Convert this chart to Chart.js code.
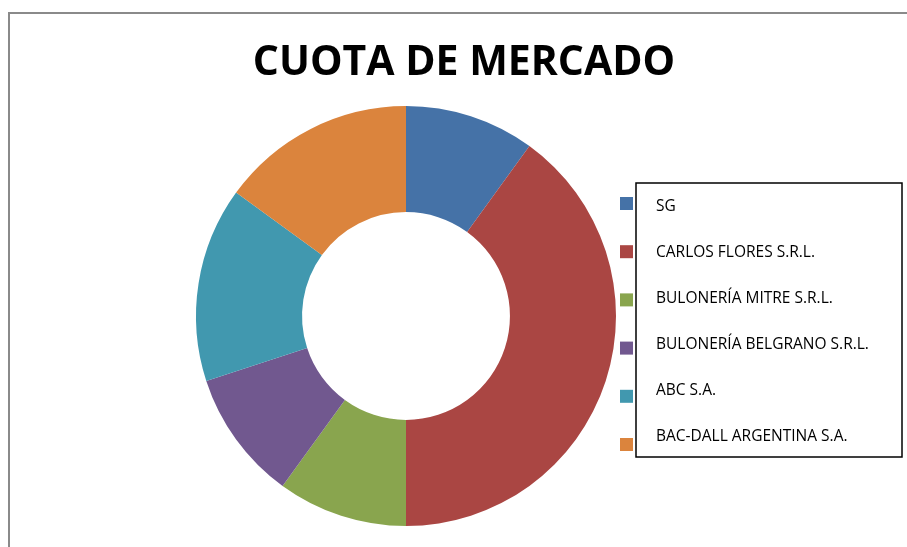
<!DOCTYPE html>
<html>
<head>
<meta charset="utf-8">
<script src="https://cdn.jsdelivr.net/npm/chart.js@4"></script>
<style>
  html, body { margin: 0; padding: 0; background: #fff; }
  #wrap { position: relative; width: 907px; height: 547px; overflow: hidden; }
  #frame {
    position: absolute; left: 8px; top: 12px; width: 1000px; height: 1000px;
    border-top: 2px solid #8a8a8a; border-left: 2px solid #8a8a8a;
  }
  canvas { position: absolute; left: 0; top: 0; }
</style>
</head>
<body>
<div id="wrap">
  <div id="frame"></div>
  <canvas id="chart" width="907" height="547"></canvas>
</div>
<script>
const titleText = 'CUOTA DE MERCADO';
const companies = [
  'SG',
  'CARLOS FLORES S.R.L.',
  'BULONERÍA MITRE S.R.L.',
  'BULONERÍA BELGRANO S.R.L.',
  'ABC S.A.',
  'BAC-DALL ARGENTINA S.A.'
];
const shares = [10, 40, 10, 10, 15, 15];
const colors = ['#4572A7', '#AA4643', '#89A54E', '#71588F', '#4198AF', '#DB843D'];

// title and the boxed legend (markers sit just outside the box, like the original)
const decor = {
  id: 'decor',
  afterDraw(chart) {
    const ctx = chart.ctx;
    ctx.save();
    ctx.fillStyle = '#000';
    ctx.font = 'bold 41px "Open Sans"';
    ctx.textAlign = 'center';
    ctx.textBaseline = 'middle';
    ctx.fillText(titleText, 464, 63);

    ctx.strokeStyle = '#000';
    ctx.lineWidth = 1.5;
    ctx.strokeRect(636, 183, 266, 274);

    const labels = chart.data.labels;
    const bg = chart.data.datasets[0].backgroundColor;
    ctx.font = '15.5px "Open Sans"';
    ctx.textAlign = 'left';
    labels.forEach((lab, i) => {
      ctx.fillStyle = bg[i];
      ctx.fillRect(620, 197 + i * 48.2, 13, 13);
      ctx.fillStyle = '#000';
      ctx.fillText(lab, 656, 207 + i * 46);
    });
    ctx.restore();
  }
};

new Chart(document.getElementById('chart'), {
  type: 'doughnut',
  data: {
    labels: companies,
    datasets: [{
      data: shares,
      backgroundColor: colors,
      borderWidth: 0
    }]
  },
  options: {
    responsive: false,
    animation: false,
    cutout: '49.5%',
    layout: { padding: { top: 106, bottom: 21, left: 0, right: 95 } },
    plugins: {
      legend: { display: false },
      title: { display: false },
      tooltip: { enabled: false }
    }
  },
  plugins: [decor]
});
</script>
</body>
</html>
